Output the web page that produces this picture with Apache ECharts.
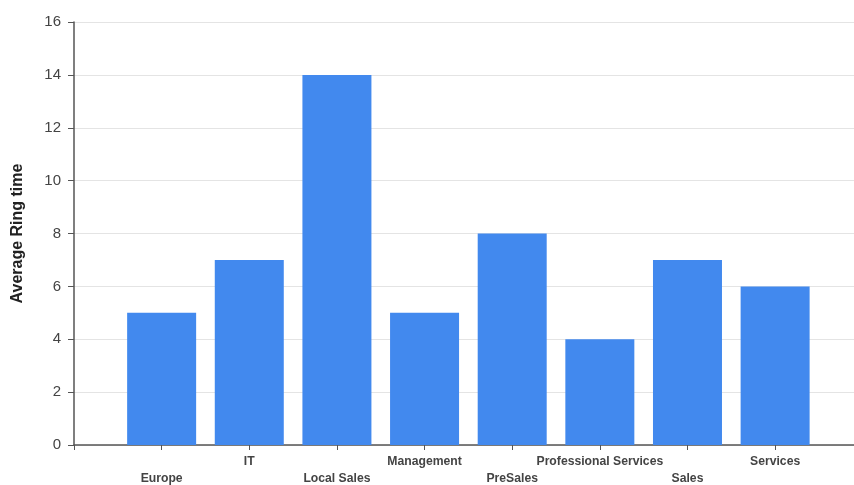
<!DOCTYPE html>
<html>
<head>
<meta charset="utf-8">
<style>
  html, body { margin: 0; padding: 0; background: #fff; }
  #chart { width: 854px; height: 485px; }
</style>
<script src="https://cdn.jsdelivr.net/npm/echarts@6/dist/echarts.min.js"></script>
</head>
<body>
<div id="chart"></div>
<script>
// Department names, in axis order (position 1..8 on the x scale)
const categories = ['Europe', 'IT', 'Local Sales', 'Management', 'PreSales', 'Professional Services', 'Sales', 'Services'];
// Average ring time per department
const ringTimes = [5, 7, 14, 5, 8, 4, 7, 6];
// Y axis tick values
const yTicks = [0, 2, 4, 6, 8, 10, 12, 14, 16];

const positions = categories.map((_, i) => i + 1);
const barData = positions.map((p, i) => [p, ringTimes[i]]);

const chart = echarts.init(document.getElementById('chart'), null, { renderer: 'canvas' });
chart.setOption({
  animation: false,
  grid: { left: 74, right: 0, top: 22, bottom: 40, containLabel: false, outerBoundsMode: 'none' },
  xAxis: {
    type: 'value',
    min: 0,
    max: 8.9,
    interval: 1,
    splitLine: { show: false },
    axisLine: { show: true, onZero: false, lineStyle: { color: '#555', width: 1.5 } },
    axisTick: { show: true, length: 5, customValues: [0].concat(positions), lineStyle: { color: '#555' } },
    axisLabel: {
      customValues: positions,
      margin: 8,
      color: '#444',
      fontFamily: 'Liberation Sans, Arial, sans-serif',
      fontWeight: 'bold',
      fontSize: 12.2,
      lineHeight: 17,
      formatter: v => {
        const i = Math.round(v);
        const name = categories[i - 1] || '';
        return (i % 2 === 1 ? '\n' : '') + name;
      }
    }
  },
  yAxis: {
    type: 'value',
    min: yTicks[0],
    max: yTicks[yTicks.length - 1],
    interval: 2,
    name: 'Average Ring time',
    nameLocation: 'middle',
    nameGap: 48,
    nameRotate: 90,
    nameTextStyle: { color: '#222', fontSize: 16, fontWeight: 'bold', fontFamily: 'Liberation Sans, Arial, sans-serif' },
    axisLine: { show: true, lineStyle: { color: '#555', width: 1.5 } },
    axisTick: { show: true, inside: false, length: 6, lineStyle: { color: '#555' } },
    axisLabel: { color: '#444', fontSize: 15, margin: 13, fontFamily: 'Liberation Sans, Arial, sans-serif' },
    splitLine: { show: true, lineStyle: { color: '#e4e4e4', width: 1 } }
  },
  series: [{
    type: 'bar',
    data: barData,
    barWidth: 69,
    itemStyle: { color: '#4289ee' }
  }]
});
</script>
</body>
</html>
